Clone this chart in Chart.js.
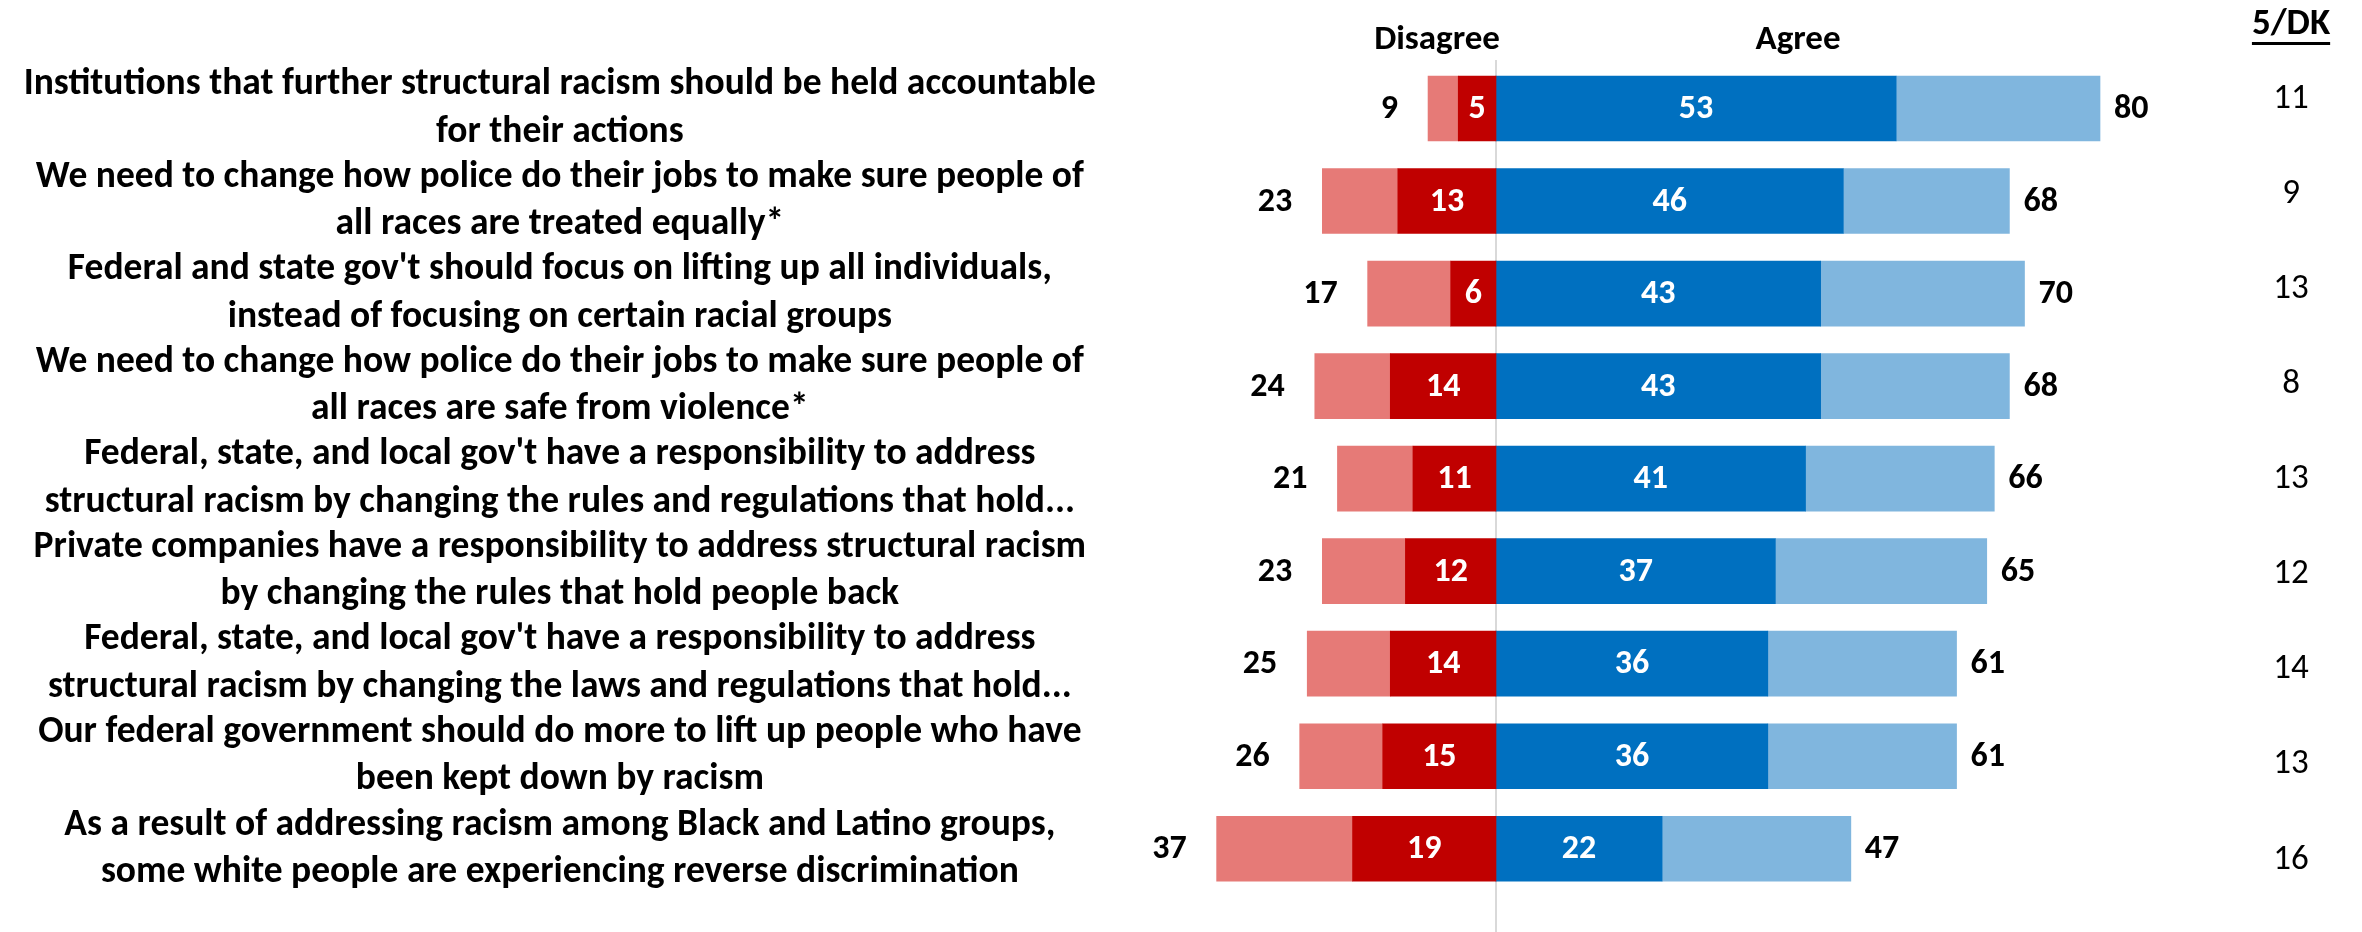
<!DOCTYPE html>
<html>
<head>
<meta charset="utf-8">
<script src="https://cdn.jsdelivr.net/npm/chart.js"></script>
<style>
  body { margin: 0; background: #fff; }
</style>
</head>
<body>
<canvas id="graficoRacismo" width="2362" height="932"></canvas>
<script>
// 🔧 Datos de la encuesta

const afirmaciones = [
  ['Institutions that further structural racism should be held accountable', 'for their actions'],
  ['We need to change how police do their jobs to make sure people of', 'all races are treated equally*'],
  ["Federal and state gov't should focus on lifting up all individuals,", 'instead of focusing on certain racial groups'],
  ['We need to change how police do their jobs to make sure people of', 'all races are safe from violence*'],
  ["Federal, state, and local gov't have a responsibility to address", 'structural racism by changing the rules and regulations that hold...'],
  ['Private companies have a responsibility to address structural racism', 'by changing the rules that hold people back'],
  ["Federal, state, and local gov't have a responsibility to address", 'structural racism by changing the laws and regulations that hold...'],
  ['Our federal government should do more to lift up people who have', 'been kept down by racism'],
  ['As a result of addressing racism among Black and Latino groups,', 'some white people are experiencing reverse discrimination']
];

const desacuerdoTotal  = [9, 23, 17, 24, 21, 23, 25, 26, 37];
const desacuerdoFuerte = [5, 13, 6, 14, 11, 12, 14, 15, 19];
const acuerdoFuerte    = [53, 46, 43, 43, 41, 37, 36, 36, 22];
const acuerdoTotal     = [80, 68, 70, 68, 66, 65, 61, 61, 47];
const neutralDK        = [11, 9, 13, 8, 13, 12, 14, 13, 16];

const encabezados = { desacuerdo: 'Disagree', acuerdo: 'Agree', dk: '5/DK' };

const FUENTE = 'Carlito, Calibri, "Liberation Sans", sans-serif';

// 👉 Línea del cero, encabezados y etiquetas de valores
const etiquetas = {
  id: 'etiquetas',
  beforeDatasetsDraw(chart) {
    const { ctx, scales: { x } } = chart;
    const x0 = x.getPixelForValue(0);
    ctx.save();
    ctx.strokeStyle = '#d9d9d9';
    ctx.lineWidth = 2;
    ctx.beginPath();
    ctx.moveTo(x0, 60);
    ctx.lineTo(x0, chart.height);
    ctx.stroke();
    ctx.restore();
  },
  afterDatasetsDraw(chart) {
    const { ctx, scales: { x, y } } = chart;
    ctx.save();
    ctx.textBaseline = 'middle';

    // valores dentro de las barras fuertes
    ctx.fillStyle = '#fff';
    ctx.textAlign = 'center';
    ctx.font = 'bold 34px ' + FUENTE;
    [0, 2].forEach(d => {
      chart.getDatasetMeta(d).data.forEach((barra, i) => {
        const valor = d === 0 ? desacuerdoFuerte[i] : acuerdoFuerte[i];
        ctx.fillText(valor, (barra.x + barra.base) / 2, barra.y + 1);
      });
    });

    // totales a cada lado
    ctx.fillStyle = '#000';
    chart.getDatasetMeta(1).data.forEach((barra, i) => {
      ctx.textAlign = 'right';
      ctx.fillText(desacuerdoTotal[i], barra.x - 30, barra.y + 1);
    });
    chart.getDatasetMeta(3).data.forEach((barra, i) => {
      ctx.textAlign = 'left';
      ctx.fillText(acuerdoTotal[i], barra.x + 14, barra.y + 1);
    });

    // columna 5/DK
    const xDK = x.getPixelForValue(105.3);
    ctx.textAlign = 'center';
    ctx.font = '35px ' + FUENTE;
    neutralDK.forEach((v, i) => {
      ctx.fillText(v, xDK, y.getPixelForValue(i) - 9 + i * 2.5);
    });

    // encabezados
    ctx.font = 'bold 35px ' + FUENTE;
    ctx.fillText(encabezados.desacuerdo, x.getPixelForValue(-7.8), 40);
    ctx.fillText(encabezados.acuerdo, x.getPixelForValue(40), 40);
    ctx.font = 'bold 37px ' + FUENTE;
    ctx.fillText(encabezados.dk, xDK, 25);
    const anchoDK = ctx.measureText(encabezados.dk).width;
    ctx.fillRect(xDK - anchoDK / 2, 42, anchoDK, 3);

    ctx.restore();
  }
};

new Chart(document.getElementById('graficoRacismo'), {
  type: 'bar',
  data: {
    labels: afirmaciones,
    datasets: [
      {
        label: 'Strongly disagree',
        data: desacuerdoFuerte.map(v => -v),
        backgroundColor: '#C00000'
      },
      {
        label: 'Disagree',
        data: desacuerdoTotal.map((v, i) => -(v - desacuerdoFuerte[i])),
        backgroundColor: '#E67A77'
      },
      {
        label: 'Strongly agree',
        data: acuerdoFuerte,
        backgroundColor: '#0070C0'
      },
      {
        label: 'Agree',
        data: acuerdoTotal.map((v, i) => v - acuerdoFuerte[i]),
        backgroundColor: '#80B6DE'
      }
    ]
  },
  options: {
    indexAxis: 'y',
    responsive: false,
    animation: false,
    layout: { padding: { top: 108.5, bottom: 37.5, left: 0, right: 0 } },
    datasets: {
      bar: { barThickness: 65, clip: false, borderWidth: 0 }
    },
    scales: {
      x: {
        stacked: true,
        min: -47.15,
        max: 114.7,
        display: false
      },
      y: {
        stacked: true,
        offset: false,
        grid: { display: false },
        border: { display: false },
        afterFit: escala => { escala.width = 1140; },
        ticks: {
          autoSkip: false,
          crossAlign: 'center',
          padding: 36,
          color: '#000',
          font: { family: FUENTE, size: 37.5, weight: 'bold', lineHeight: 1.26 }
        }
      }
    },
    plugins: {
      legend: { display: false },
      tooltip: { enabled: false }
    }
  },
  plugins: [etiquetas]
});
</script>
</body>
</html>
